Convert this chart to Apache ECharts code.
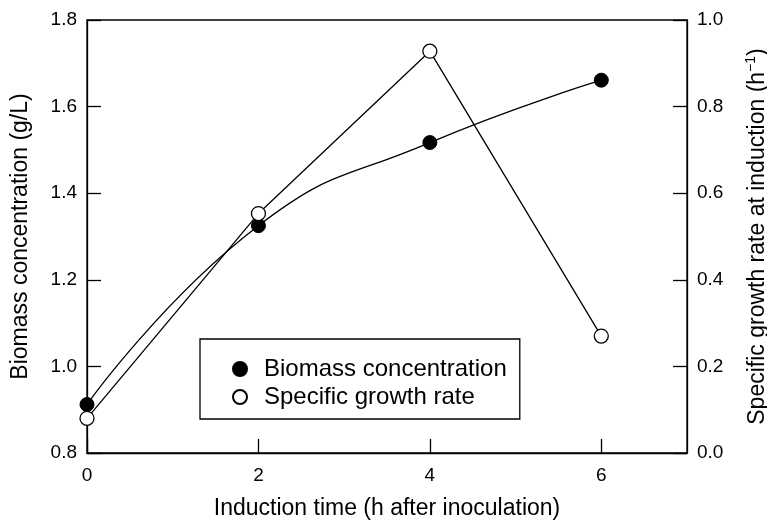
<!DOCTYPE html>
<html>
<head>
<meta charset="utf-8">
<script src="https://cdn.jsdelivr.net/npm/echarts@6/dist/echarts.min.js"></script>
<style>
  html, body { margin: 0; padding: 0; background: #fff; }
  #chart { width: 767px; height: 522px; }
</style>
</head>
<body>
<div id="chart"></div>
<script>
// Induction time (h after inoculation)
const inductionTimes = [0, 2, 4, 6];
// Biomass concentration at induction (g/L)
const biomass = [0.912, 1.325, 1.517, 1.661];
// Specific growth rate at induction (1/h)
const growthRate = [0.080, 0.553, 0.928, 0.270];

const xTicks = [0, 2, 4, 6];
const leftTicks = [0.8, 1.0, 1.2, 1.4, 1.6, 1.8];
const rightTicks = [0.0, 0.2, 0.4, 0.6, 0.8, 1.0];

const FONT = '"Liberation Sans", Arial, Helvetica, sans-serif';
const INK = '#000';

const chart = echarts.init(document.getElementById('chart'), null, { renderer: 'canvas' });

const axisCommon = {
  axisLine: { show: true, lineStyle: { color: INK, width: 1.3 } },
  axisTick: { show: true, inside: true, length: 14, lineStyle: { color: INK, width: 1.3 } },
  splitLine: { show: false },
  nameTextStyle: { fontFamily: FONT, fontSize: 23, color: INK },
  axisLabel: { fontFamily: FONT, fontSize: 19, color: INK }
};

chart.setOption({
  animation: false,
  backgroundColor: '#fff',
  grid: {
    left: 87, right: 80, top: 20, bottom: 69,
    outerBoundsMode: 'none',
    containLabel: false,
    show: true, borderColor: INK, borderWidth: 1.3, backgroundColor: 'transparent'
  },
  legend: {
    orient: 'vertical',
    left: 200, top: 339,
    icon: 'circle',
    itemWidth: 38, itemHeight: 14, itemGap: 4,
    padding: [18, 13, 10, 32],
    borderColor: INK, borderWidth: 1.3,
    textStyle: { fontFamily: FONT, fontSize: 24, color: INK },
    data: ['Biomass concentration', 'Specific growth rate']
  },
  xAxis: Object.assign({}, axisCommon, {
    type: 'value',
    min: 0, max: 7, interval: 2,
    name: 'Induction time (h after inoculation)',
    nameLocation: 'middle', nameGap: 44,
    axisLabel: Object.assign({}, axisCommon.axisLabel, {
      margin: 13,
      showMaxLabel: false,
      formatter: v => (xTicks.includes(v) ? String(v) : '')
    })
  }),
  yAxis: [
    Object.assign({}, axisCommon, {
      type: 'value', position: 'left',
      min: leftTicks[0], max: leftTicks[leftTicks.length - 1], interval: 0.2,
      name: 'Biomass concentration (g/L)',
      nameLocation: 'middle', nameRotate: 90, nameGap: 55,
      axisLabel: Object.assign({}, axisCommon.axisLabel, {
        margin: 10, formatter: v => v.toFixed(1)
      })
    }),
    Object.assign({}, axisCommon, {
      type: 'value', position: 'right',
      min: rightTicks[0], max: rightTicks[rightTicks.length - 1], interval: 0.2,
      name: '{n|Specific growth rate at induction (h}{s|\u22121}{n|)}',
      nameLocation: 'middle', nameRotate: 90, nameGap: 57,
      nameTextStyle: {
        fontFamily: FONT, fontSize: 23, color: INK,
        rich: {
          n: { fontFamily: FONT, fontSize: 23, color: INK },
          s: { fontFamily: FONT, fontSize: 14, color: INK, padding: [0, 0, 14, 0] }
        }
      },
      axisLabel: Object.assign({}, axisCommon.axisLabel, {
        margin: 10, formatter: v => v.toFixed(1)
      })
    })
  ],
  series: [
    {
      name: 'Biomass concentration',
      type: 'line',
      yAxisIndex: 0,
      smooth: 0.5,
      data: inductionTimes.map((t, i) => [t, biomass[i]]),
      symbol: 'circle', symbolSize: 14,
      lineStyle: { color: INK, width: 1.3 },
      itemStyle: { color: INK, borderColor: INK, borderWidth: 1 },
      z: 3
    },
    {
      name: 'Specific growth rate',
      type: 'line',
      yAxisIndex: 1,
      data: inductionTimes.map((t, i) => [t, growthRate[i]]),
      symbol: 'circle', symbolSize: 14,
      lineStyle: { color: INK, width: 1.3 },
      itemStyle: { color: '#fff', borderColor: INK, borderWidth: 1.3 },
      z: 4
    }
  ]
});
</script>
</body>
</html>
